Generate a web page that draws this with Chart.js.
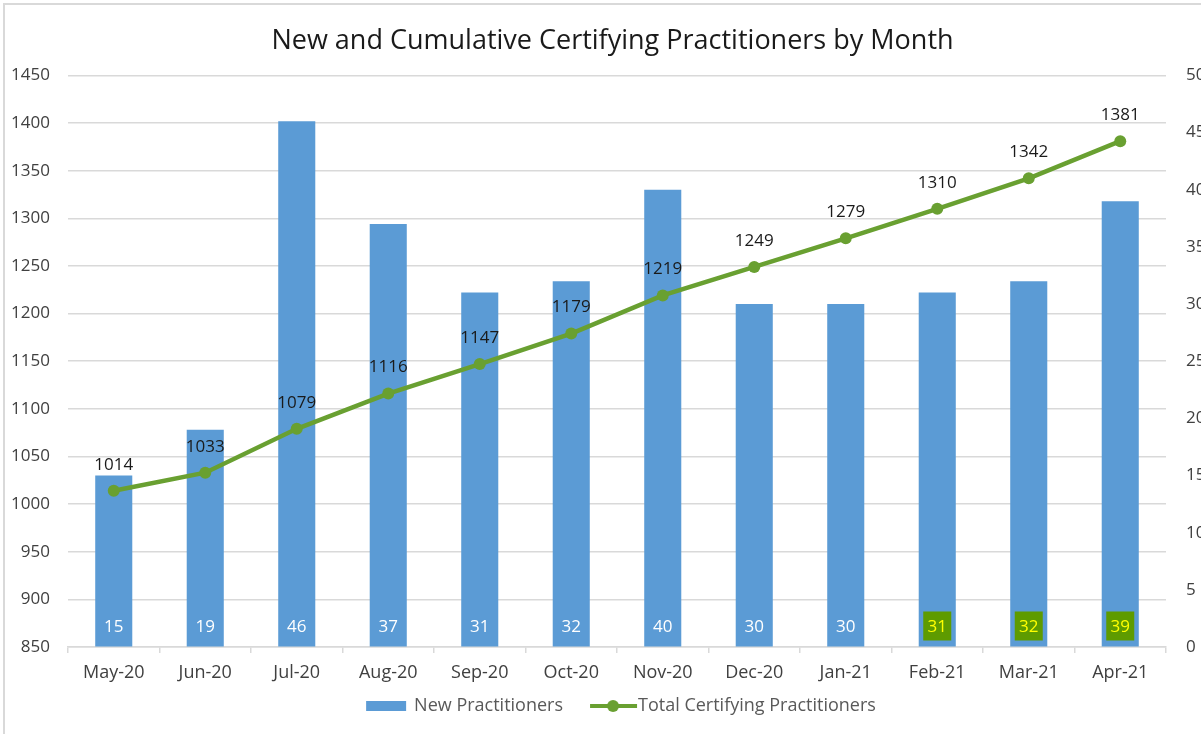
<!DOCTYPE html>
<html><head><meta charset="utf-8">
<script src="https://cdn.jsdelivr.net/npm/chart.js@4"></script>
<style>
html,body{margin:0;padding:0;background:#fff;overflow:hidden;width:1201px;height:734px;}
#frame{position:absolute;left:3px;top:3px;width:1300px;height:800px;border-left:2px solid #d9d9d9;border-top:2px solid #d9d9d9;box-sizing:border-box;}
#wrap{position:absolute;left:0;top:0;width:1225px;height:734px;}
</style></head><body>
<div id="frame"></div>
<div id="wrap"><canvas id="c" width="1225" height="734"></canvas></div>
<script>
const months = ['May-20','Jun-20','Jul-20','Aug-20','Sep-20','Oct-20','Nov-20','Dec-20','Jan-21','Feb-21','Mar-21','Apr-21'];
const newPractitioners = [15,19,46,37,31,32,40,30,30,31,32,39];
const totalPractitioners = [1014,1033,1079,1116,1147,1179,1219,1249,1279,1310,1342,1381];
const highlightedMonths = ['Feb-21','Mar-21','Apr-21'];
const leftAxisRange = [850, 1450, 50];
const rightAxisRange = [0, 50, 5];

const FONT = "'Open Sans', sans-serif";
const BAR_COLOR = '#5B9BD5';
const LINE_COLOR = '#69A031';
const GRID = '#d9d9d9';

const LEG_FONT = 18;
const LEG_P = 56;
function legendImage(kind){
  const W = LEG_P + LEG_FONT, H = 16;
  const c = document.createElement('canvas');
  c.width = W; c.height = H;
  const g = c.getContext('2d');
  if (kind === 'bar') {
    g.fillStyle = BAR_COLOR;
    g.fillRect(W - 48, 3, 40, 10);
  } else {
    g.strokeStyle = LINE_COLOR; g.lineWidth = 4;
    g.beginPath(); g.moveTo(W - 48, 8); g.lineTo(W - 1, 8); g.stroke();
    g.fillStyle = LINE_COLOR;
    g.beginPath(); g.arc(W - 25, 8, 6, 0, Math.PI*2); g.fill();
  }
  return c;
}

const labelPlugin = {
  id: 'valueLabels',
  afterDatasetsDraw(chart) {
    const ctx = chart.ctx;
    const area = chart.chartArea;
    ctx.save();
    ctx.textAlign = 'center';
    ctx.textBaseline = 'middle';
    ctx.font = "17px " + FONT;
    const barMeta = chart.getDatasetMeta(0);
    barMeta.data.forEach((el, i) => {
      const cx = el.x, cy = area.bottom - 21;
      if (highlightedMonths.includes(months[i])) {
        ctx.fillStyle = '#5E9B00';
        ctx.fillRect(cx - 14, cy - 14.5, 28, 29);
        ctx.fillStyle = '#FFFF00';
      } else {
        ctx.fillStyle = '#ffffff';
      }
      ctx.fillText(String(newPractitioners[i]), cx, cy + 1);
    });
    const lineMeta = chart.getDatasetMeta(1);
    ctx.fillStyle = '#1a1a1a';
    lineMeta.data.forEach((el, i) => {
      ctx.fillText(String(totalPractitioners[i]), el.x, el.y - 26);
    });
    ctx.restore();
  }
};

new Chart(document.getElementById('c'), {
  data: {
    labels: months,
    datasets: [
      { type: 'bar', label: 'New Practitioners', data: newPractitioners, yAxisID: 'y1',
        backgroundColor: BAR_COLOR, barPercentage: 0.405, categoryPercentage: 1, order: 1 },
      { type: 'line', label: 'Total Certifying Practitioners', data: totalPractitioners, yAxisID: 'y',
        borderColor: LINE_COLOR, backgroundColor: LINE_COLOR, borderWidth: 4.5, pointRadius: 6,
        pointBackgroundColor: LINE_COLOR, pointBorderWidth: 0, tension: 0, order: 0 }
    ]
  },
  options: {
    responsive: false,
    animation: false,
    devicePixelRatio: 1,
    layout: { padding: { left: 0, right: 0, top: 0, bottom: 9 } },
    plugins: {
      tooltip: { enabled: false },
      title: { display: true, text: 'New and Cumulative Certifying Practitioners by Month',
        font: { family: FONT, size: 27, weight: 'normal' }, color: '#1a1a1a',
        padding: { top: 25, bottom: 18 } },
      legend: { position: 'bottom',
        labels: { usePointStyle: true, pointStyleWidth: LEG_P, padding: 10,
          font: { family: FONT, size: LEG_FONT }, color: '#595959',
          generateLabels(chart) {
            return [
              { text: 'New Practitioners', pointStyle: legendImage('bar'), fillStyle: BAR_COLOR, strokeStyle: BAR_COLOR, lineWidth: 0, datasetIndex: 0, fontColor: '#595959' },
              { text: 'Total Certifying Practitioners', pointStyle: legendImage('line'), fillStyle: LINE_COLOR, strokeStyle: LINE_COLOR, lineWidth: 0, datasetIndex: 1, fontColor: '#595959' }
            ];
          }
        } }
    },
    scales: {
      x: { type: 'category', offset: true,
        grid: { offset: true, drawOnChartArea: false, drawTicks: true, tickLength: 6, color: GRID, lineWidth: 1.5 },
        border: { display: true, color: GRID, width: 1.5 },
        ticks: { font: { family: FONT, size: 18 }, color: '#404040', padding: 9, maxRotation: 0 },
        afterFit(s) { s.height = 40; } },
      y: { type: 'linear', position: 'left', min: leftAxisRange[0], max: leftAxisRange[1],
        ticks: { stepSize: leftAxisRange[2], font: { family: FONT, size: 17 }, color: '#404040', padding: 18,
          callback: (v) => String(v) },
        grid: { color: GRID, lineWidth: 1.5, drawTicks: false },
        border: { display: false },
        afterFit(s) { s.width = 68; } },
      y1: { type: 'linear', position: 'right', min: rightAxisRange[0], max: rightAxisRange[1],
        ticks: { stepSize: rightAxisRange[2], font: { family: FONT, size: 17 }, color: '#404040', padding: 20,
          callback: (v) => String(v) },
        grid: { drawOnChartArea: false, drawTicks: false },
        border: { display: false },
        afterFit(s) { s.width = 59; } }
    }
  },
  plugins: [labelPlugin]
});
</script>
</body></html>
